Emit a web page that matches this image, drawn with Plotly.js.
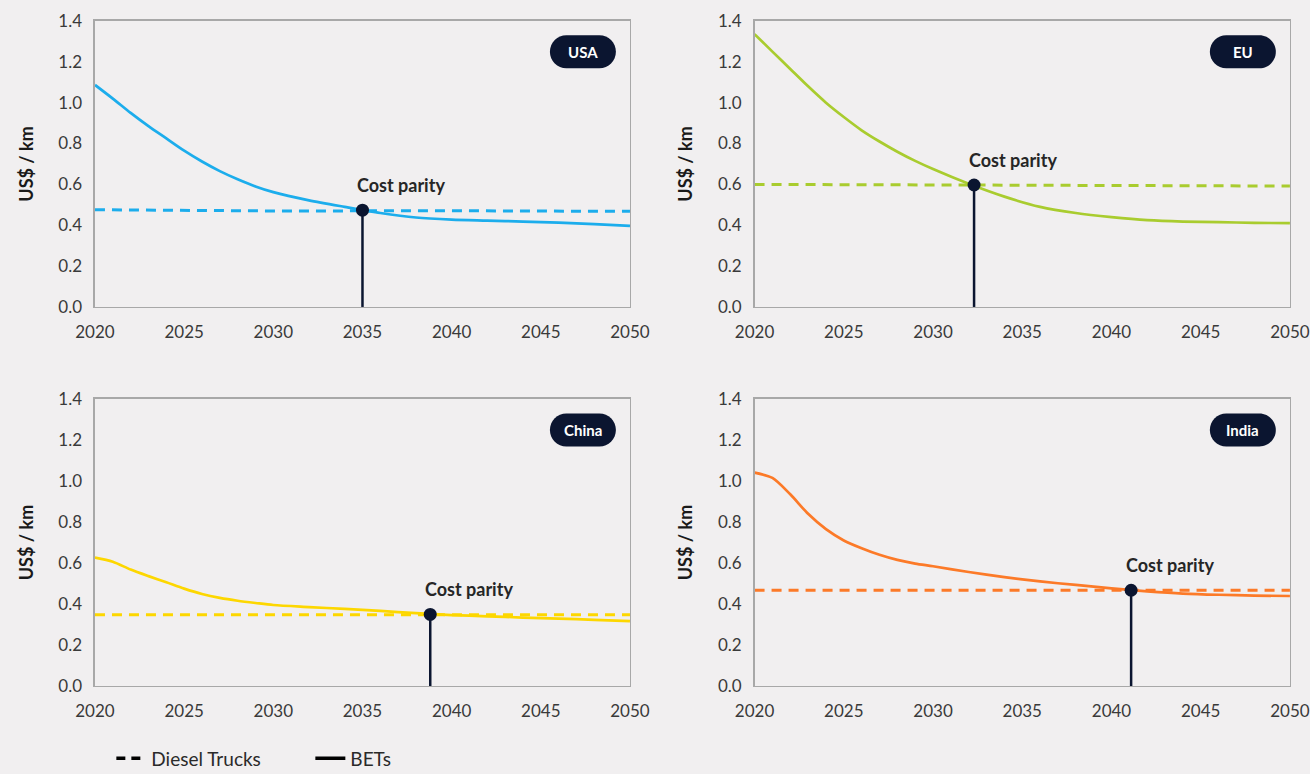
<!DOCTYPE html>
<html>
<head>
<meta charset="utf-8">
<script src="https://cdn.plot.ly/plotly-3.0.1.min.js"></script>
<style>
  html, body { margin: 0; padding: 0; background: #f1eff0; }
  #chart { width: 1310px; height: 774px; }
</style>
</head>
<body>
<div id="chart"></div>
<script>
// Total cost of ownership per km: battery-electric trucks (BETs) vs diesel trucks
const regions = ['USA', 'EU', 'China', 'India'];

const years = [2020, 2021, 2022, 2023, 2024, 2025, 2026, 2027, 2028, 2029, 2030,
               2032, 2034, 2036, 2038, 2040, 2042, 2044, 2046, 2048, 2050];

const betUSA   = [1.087, 1.02, 0.95, 0.885, 0.825, 0.765, 0.712, 0.665, 0.625, 0.59, 0.562,
                  0.522, 0.49, 0.46, 0.438, 0.428, 0.423, 0.418, 0.413, 0.406, 0.397];
const betEU    = [1.335, 1.25, 1.165, 1.08, 1.0, 0.93, 0.865, 0.81, 0.76, 0.715, 0.675,
                  0.603, 0.54, 0.49, 0.46, 0.44, 0.425, 0.418, 0.415, 0.412, 0.41];
const betChina = [0.626, 0.606, 0.568, 0.536, 0.506, 0.475, 0.449, 0.43, 0.416, 0.405, 0.395,
                  0.385, 0.376, 0.366, 0.355, 0.346, 0.34, 0.334, 0.329, 0.323, 0.316];
const betIndia = [1.041, 1.015, 0.935, 0.84, 0.765, 0.71, 0.672, 0.64, 0.615, 0.597, 0.584,
                  0.556, 0.531, 0.51, 0.493, 0.476, 0.462, 0.451, 0.445, 0.441, 0.439];

const dieselYears = [2020, 2030, 2040, 2050];
const dieselUSA   = [0.476, 0.470, 0.471, 0.468];
const dieselEU    = [0.600, 0.597, 0.594, 0.592];
const dieselChina = [0.348, 0.348, 0.348, 0.348];
const dieselIndia = [0.467, 0.467, 0.467, 0.467];

// Year and cost at which BETs reach parity with diesel
const parityYear  = [2035.0, 2032.3, 2038.8, 2041.1];
const parityValue = [0.474, 0.597, 0.349, 0.467];

const betSeries    = [betUSA, betEU, betChina, betIndia];
const dieselSeries = [dieselUSA, dieselEU, dieselChina, dieselIndia];
const colors = ['#1cadec', '#a9cc2f', '#fdd700', '#fc7a28'];
const navy = '#0b1530';
const bg = '#f1eff0';
const FONT = 'Lato, "Open Sans", sans-serif';

// Panel placement (paper fractions)
const xDomains = [[0.0725, 0.4809], [0.5760, 0.9847], [0.0725, 0.4809], [0.5760, 0.9847]];
const yDomains = [[0.6034, 0.9729], [0.6034, 0.9729], [0.1137, 0.4845], [0.1137, 0.4845]];

const traces = [];
const annotations = [];
const shapes = [];
const layout = {
  width: 1310, height: 774,
  margin: {l: 0, r: 0, t: 0, b: 0, autoexpand: false},
  paper_bgcolor: bg, plot_bgcolor: bg,
  font: {family: FONT, color: '#3a3a3a'},
  showlegend: true,
  legend: {
    orientation: 'h', x: 0.085, y: 0.02, xanchor: 'left', yanchor: 'middle',
    font: {size: 19, color: '#2a2a2a', family: FONT},
    bgcolor: 'rgba(0,0,0,0)', entrywidth: 154, tracegroupgap: 0
  }
};

// Rounded badge outline in pixels around its centre
const pillW = 33, pillH = 16.5, k = 9.1;
const pillPath = `M ${-pillW + pillH},${-pillH} L ${pillW - pillH},${-pillH} ` +
  `C ${pillW - pillH + k},${-pillH} ${pillW},${-k} ${pillW},0 ` +
  `C ${pillW},${k} ${pillW - pillH + k},${pillH} ${pillW - pillH},${pillH} ` +
  `L ${-pillW + pillH},${pillH} ` +
  `C ${-pillW + pillH - k},${pillH} ${-pillW},${k} ${-pillW},0 ` +
  `C ${-pillW},${-k} ${-pillW + pillH - k},${-pillH} ${-pillW + pillH},${-pillH} Z`;

regions.forEach((name, i) => {
  const n = i === 0 ? '' : String(i + 1);
  const xa = 'x' + n, ya = 'y' + n;

  layout['xaxis' + n] = {
    domain: xDomains[i], anchor: ya, range: [2020, 2050],
    tickmode: 'linear', tick0: 2020, dtick: 5, ticks: '',
    showgrid: false, zeroline: false,
    showline: true, mirror: true, linecolor: '#a8a8a8', linewidth: 1.5,
    tickfont: {size: 17, color: '#3a3a3a', family: FONT},
    ticklabelstandoff: 9, fixedrange: true
  };
  layout['yaxis' + n] = {
    domain: yDomains[i], anchor: xa, range: [0, 1.4],
    tickmode: 'linear', tick0: 0, dtick: 0.2, tickformat: '.1f', ticks: '',
    showgrid: false, zeroline: false,
    showline: true, mirror: true, linecolor: '#a8a8a8', linewidth: 1.5,
    tickfont: {size: 17, color: '#3a3a3a', family: FONT},
    ticklabelstandoff: 8, fixedrange: true,
    title: {text: '<b>US$ / km</b>', font: {size: 18, color: '#1a1a1a', family: FONT}, standoff: 20}
  };

  // Diesel trucks (dashed)
  traces.push({
    type: 'scatter', mode: 'lines', x: dieselYears, y: dieselSeries[i],
    xaxis: xa, yaxis: ya, showlegend: false, hoverinfo: 'skip',
    line: {color: colors[i], width: 3, dash: '10px,7px'}
  });
  // BETs (solid)
  traces.push({
    type: 'scatter', mode: 'lines', x: years, y: betSeries[i],
    xaxis: xa, yaxis: ya, showlegend: false,
    line: {color: colors[i], width: 2.7, shape: 'spline', smoothing: 0.8}
  });
  // Parity stem and marker
  traces.push({
    type: 'scatter', mode: 'lines', x: [parityYear[i], parityYear[i]], y: [0, parityValue[i]],
    xaxis: xa, yaxis: ya, showlegend: false, hoverinfo: 'skip',
    line: {color: navy, width: 2.5}
  });
  traces.push({
    type: 'scatter', mode: 'markers', x: [parityYear[i]], y: [parityValue[i]],
    xaxis: xa, yaxis: ya, showlegend: false, cliponaxis: false,
    marker: {color: navy, size: 13}
  });

  annotations.push({
    xref: xa, yref: ya, x: parityYear[i], y: parityValue[i],
    xanchor: 'left', yanchor: 'middle', xshift: -7, yshift: 25,
    text: '<b>Cost parity</b>', showarrow: false,
    font: {size: 18, color: '#262626', family: FONT}
  });

  // Region badge
  shapes.push({
    type: 'path', xref: xa + ' domain', yref: ya + ' domain',
    xsizemode: 'pixel', ysizemode: 'pixel', xanchor: 0.912, yanchor: 0.892,
    path: pillPath, fillcolor: navy, line: {width: 0}
  });
  annotations.push({
    xref: xa + ' domain', yref: ya + ' domain', x: 0.912, y: 0.892,
    xanchor: 'center', yanchor: 'middle', showarrow: false,
    text: '<b>' + name + '</b>', font: {size: 15, color: '#ffffff', family: FONT}
  });
});

// Legend keys
traces.push({
  type: 'scatter', mode: 'lines', x: [null], y: [null], xaxis: 'x', yaxis: 'y',
  name: 'Diesel Trucks', line: {color: '#000000', width: 3.5, dash: '9px,6px'}
});
traces.push({
  type: 'scatter', mode: 'lines', x: [null], y: [null], xaxis: 'x', yaxis: 'y',
  name: 'BETs', line: {color: '#000000', width: 3.5}
});

layout.annotations = annotations;
layout.shapes = shapes;

Plotly.newPlot('chart', traces, layout, {displayModeBar: false, staticPlot: true});
</script>
</body>
</html>
